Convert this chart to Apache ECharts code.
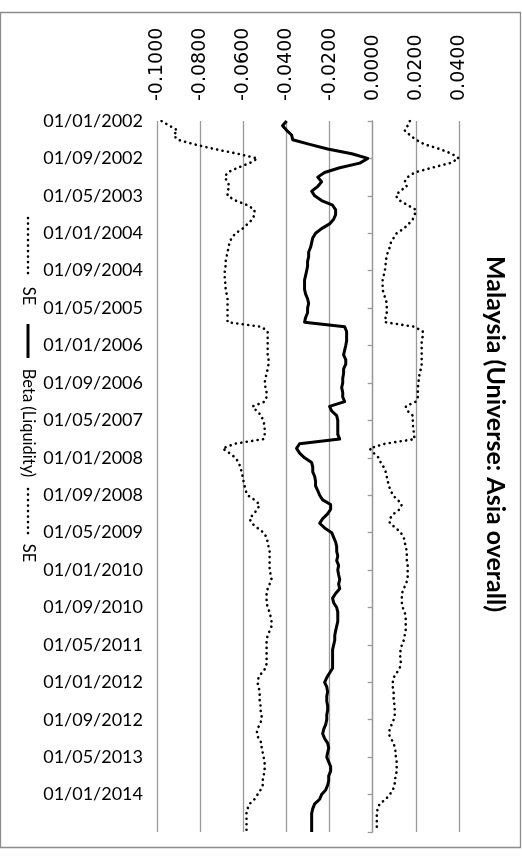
<!DOCTYPE html>
<html><head><meta charset="utf-8">
<script src="https://cdn.jsdelivr.net/npm/echarts@6/dist/echarts.min.js"></script>
<style>html,body{margin:0;padding:0;background:#fff}#c{width:522px;height:858px}</style>
</head><body><div id="c"></div>
<script>
// Monthly categories 01/01/2002 .. 01/09/2014
const nMonths = 153;
const categories = [];
for (let i = 0; i < nMonths; i++) {
  const y = 2002 + Math.floor(i / 12), m = i % 12 + 1;
  categories.push('01/' + String(m).padStart(2, '0') + '/' + y);
}
const valueMin = -0.1, valueMax = 0.04, valueStep = 0.02;
const titleText = 'Malaysia (Universe: Asia overall)';
const legendNames = ['SE', 'Beta (Liquidity)', 'SE'];

const beta = [
-0.0399,-0.0418,-0.0399,-0.0376,-0.0371,-0.0292,-0.0209,-0.0097,-0.0023,-0.0060,
-0.0153,-0.0223,-0.0255,-0.0237,-0.0255,-0.0283,-0.0269,-0.0237,-0.0186,-0.0172,
-0.0172,-0.0181,-0.0200,-0.0237,-0.0265,-0.0278,-0.0283,-0.0288,-0.0297,-0.0297,
-0.0302,-0.0302,-0.0306,-0.0311,-0.0316,-0.0316,-0.0316,-0.0311,-0.0302,-0.0297,
-0.0302,-0.0302,-0.0311,-0.0316,-0.0130,-0.0121,-0.0121,-0.0121,-0.0125,-0.0130,
-0.0135,-0.0125,-0.0125,-0.0135,-0.0135,-0.0139,-0.0139,-0.0144,-0.0139,-0.0139,
-0.0130,-0.0200,-0.0190,-0.0167,-0.0162,-0.0162,-0.0162,-0.0162,-0.0153,-0.0339,
-0.0353,-0.0339,-0.0316,-0.0283,-0.0278,-0.0278,-0.0269,-0.0265,-0.0265,-0.0255,
-0.0246,-0.0232,-0.0195,-0.0195,-0.0209,-0.0232,-0.0246,-0.0223,-0.0190,-0.0181,
-0.0172,-0.0167,-0.0167,-0.0162,-0.0167,-0.0158,-0.0162,-0.0158,-0.0153,-0.0158,
-0.0153,-0.0172,-0.0186,-0.0181,-0.0167,-0.0162,-0.0162,-0.0162,-0.0167,-0.0172,
-0.0176,-0.0176,-0.0181,-0.0186,-0.0186,-0.0186,-0.0186,-0.0186,-0.0200,-0.0213,
-0.0223,-0.0213,-0.0209,-0.0213,-0.0213,-0.0209,-0.0209,-0.0213,-0.0213,-0.0218,
-0.0227,-0.0232,-0.0223,-0.0209,-0.0204,-0.0209,-0.0213,-0.0204,-0.0195,-0.0195,
-0.0204,-0.0204,-0.0209,-0.0218,-0.0237,-0.0246,-0.0269,-0.0278,-0.0283,-0.0283,
-0.0283,-0.0283,-0.0283
];
const seUpper = [
0.0172,0.0162,0.0148,0.0172,0.0200,0.0241,0.0311,0.0367,0.0399,0.0357,
0.0274,0.0195,0.0162,0.0148,0.0158,0.0125,0.0107,0.0125,0.0162,0.0200,
0.0195,0.0186,0.0167,0.0144,0.0111,0.0097,0.0084,0.0079,0.0070,0.0065,
0.0060,0.0060,0.0056,0.0051,0.0046,0.0046,0.0046,0.0051,0.0060,0.0065,
0.0065,0.0065,0.0060,0.0056,0.0195,0.0232,0.0232,0.0227,0.0227,0.0227,
0.0227,0.0227,0.0227,0.0223,0.0218,0.0213,0.0213,0.0209,0.0209,0.0209,
0.0200,0.0153,0.0162,0.0186,0.0186,0.0186,0.0190,0.0190,0.0195,0.0056,
-0.0014,0.0005,0.0028,0.0037,0.0051,0.0060,0.0065,0.0070,0.0074,0.0084,
0.0093,0.0116,0.0135,0.0125,0.0097,0.0079,0.0079,0.0107,0.0130,0.0144,
0.0148,0.0153,0.0158,0.0158,0.0158,0.0162,0.0162,0.0162,0.0162,0.0153,
0.0144,0.0135,0.0135,0.0135,0.0139,0.0148,0.0153,0.0153,0.0153,0.0153,
0.0148,0.0144,0.0135,0.0130,0.0125,0.0130,0.0130,0.0125,0.0111,0.0097,
0.0093,0.0093,0.0097,0.0097,0.0097,0.0102,0.0102,0.0102,0.0097,0.0088,
0.0079,0.0074,0.0084,0.0097,0.0102,0.0107,0.0107,0.0111,0.0111,0.0111,
0.0107,0.0102,0.0102,0.0093,0.0079,0.0060,0.0032,0.0023,0.0019,0.0019,
0.0019,0.0019,0.0019
];
const seLower = [
-0.0979,-0.0942,-0.0905,-0.0923,-0.0905,-0.0826,-0.0733,-0.0626,-0.0534,-0.0571,
-0.0626,-0.0673,-0.0686,-0.0673,-0.0664,-0.0673,-0.0673,-0.0636,-0.0580,-0.0548,
-0.0548,-0.0557,-0.0580,-0.0603,-0.0636,-0.0654,-0.0664,-0.0668,-0.0673,-0.0677,
-0.0682,-0.0682,-0.0686,-0.0686,-0.0686,-0.0682,-0.0682,-0.0677,-0.0673,-0.0673,
-0.0673,-0.0673,-0.0673,-0.0673,-0.0515,-0.0487,-0.0487,-0.0487,-0.0487,-0.0487,
-0.0487,-0.0483,-0.0483,-0.0487,-0.0492,-0.0497,-0.0501,-0.0497,-0.0492,-0.0492,
-0.0501,-0.0557,-0.0538,-0.0515,-0.0510,-0.0501,-0.0501,-0.0501,-0.0506,-0.0640,
-0.0696,-0.0664,-0.0636,-0.0622,-0.0613,-0.0608,-0.0603,-0.0599,-0.0594,-0.0589,
-0.0580,-0.0548,-0.0524,-0.0534,-0.0552,-0.0571,-0.0561,-0.0534,-0.0506,-0.0492,
-0.0487,-0.0483,-0.0478,-0.0478,-0.0478,-0.0478,-0.0478,-0.0473,-0.0469,-0.0478,
-0.0487,-0.0492,-0.0492,-0.0492,-0.0487,-0.0478,-0.0473,-0.0469,-0.0469,-0.0478,
-0.0487,-0.0492,-0.0492,-0.0492,-0.0492,-0.0492,-0.0492,-0.0497,-0.0515,-0.0529,
-0.0534,-0.0529,-0.0524,-0.0524,-0.0524,-0.0520,-0.0520,-0.0515,-0.0515,-0.0524,
-0.0534,-0.0538,-0.0529,-0.0515,-0.0515,-0.0510,-0.0506,-0.0501,-0.0501,-0.0501,
-0.0506,-0.0510,-0.0510,-0.0520,-0.0534,-0.0548,-0.0571,-0.0580,-0.0585,-0.0585,
-0.0585,-0.0585,-0.0585
];

const chart = echarts.init(document.getElementById('c'), null, {renderer: 'canvas'});
const dotted = {color: '#000', width: 2.6, type: [0.1, 5.4], cap: 'round'};
const gray = '#9a9a9a';
const legendFont = '16.5px Lato';
const legendX = 28;

chart.setOption({
  animation: false,
  backgroundColor: '#fff',
  grid: {left: 157, right: 63, top: 121, bottom: 26, containLabel: false},
  xAxis: {
    type: 'value', position: 'top', min: valueMin, max: valueMax, interval: valueStep,
    axisLine: {show: false}, axisTick: {show: false},
    splitLine: {lineStyle: {color: gray, width: 1.3}},
    axisLabel: {
      rotate: -90, margin: 20, fontSize: 19, fontFamily: 'DejaVu Sans', color: '#000',
      formatter: v => (Math.abs(v) < 1e-9 ? 0 : v).toFixed(4)
    }
  },
  yAxis: {
    type: 'category', data: categories, inverse: true, boundaryGap: false,
    axisLine: {lineStyle: {color: gray, width: 1.3}},
    axisTick: {interval: 7, length: 5, lineStyle: {color: gray, width: 1.3}},
    splitLine: {show: false},
    axisLabel: {
      interval: 7, margin: 14, fontSize: 18, fontFamily: 'Lato', color: '#000',
      formatter: (v, i) => (i === nMonths - 1 ? '' : v)
    }
  },
  series: [
    {name: 'SE', type: 'line', data: seUpper, showSymbol: false, lineStyle: dotted, z: 3},
    {name: 'Beta (Liquidity)', type: 'line', data: beta, showSymbol: false,
     lineStyle: {color: '#000', width: 3, join: 'round'}, z: 4},
    {name: 'SE', type: 'line', data: seLower, showSymbol: false, lineStyle: dotted, z: 3}
  ],
  graphic: [
    {type: 'rect', shape: {x: 0.5, y: 12.5, width: 520, height: 835}, silent: true,
     style: {fill: 'none', stroke: '#8c8c8c', lineWidth: 1.3}, z: -10},
    {type: 'text', x: 495, y: 434, rotation: -Math.PI / 2,
     style: {text: titleText, font: 'bold 25px Lato', fill: '#000', align: 'center', verticalAlign: 'middle'}},
    {type: 'line', shape: {x1: legendX, y1: 218, x2: legendX, y2: 277}, style: {stroke: '#000', lineWidth: 2.6, lineDash: [0.1, 5.4], lineCap: 'round'}},
    {type: 'text', x: legendX, y: 296, rotation: -Math.PI / 2,
     style: {text: legendNames[0], font: legendFont, fill: '#000', align: 'center', verticalAlign: 'middle'}},
    {type: 'line', shape: {x1: legendX, y1: 324, x2: legendX, y2: 358}, style: {stroke: '#000', lineWidth: 3}},
    {type: 'text', x: legendX, y: 423, rotation: -Math.PI / 2,
     style: {text: legendNames[1], font: legendFont, fill: '#000', align: 'center', verticalAlign: 'middle'}},
    {type: 'line', shape: {x1: legendX, y1: 489, x2: legendX, y2: 535}, style: {stroke: '#000', lineWidth: 2.6, lineDash: [0.1, 5.4], lineCap: 'round'}},
    {type: 'text', x: legendX, y: 553, rotation: -Math.PI / 2,
     style: {text: legendNames[2], font: legendFont, fill: '#000', align: 'center', verticalAlign: 'middle'}}
  ]
});
</script></body></html>
